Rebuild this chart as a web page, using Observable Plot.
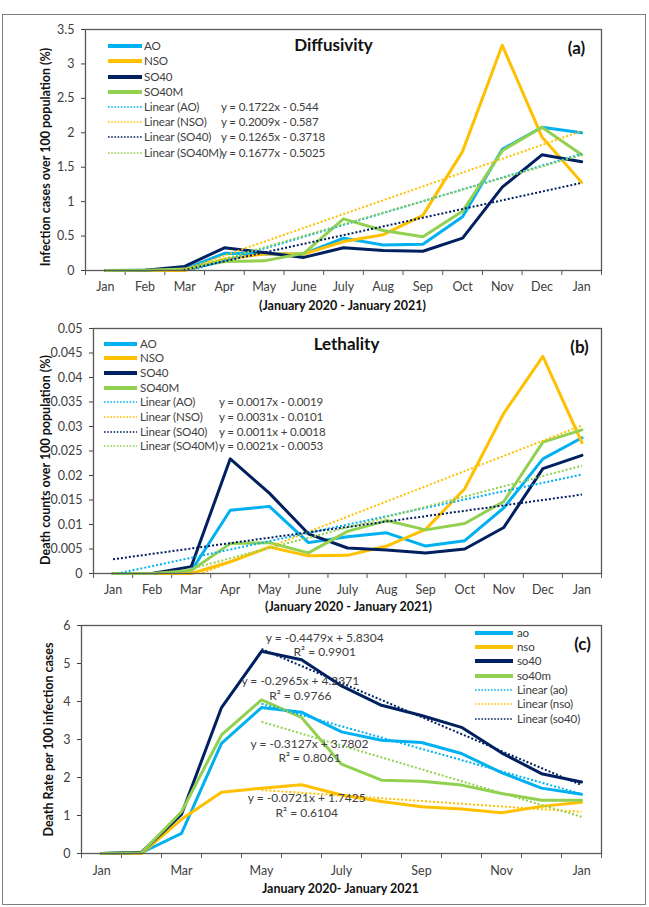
<!DOCTYPE html>
<html>
<head>
<meta charset="utf-8">
<script src="https://cdn.jsdelivr.net/npm/d3@7"></script>
<script src="https://cdn.jsdelivr.net/npm/@observablehq/plot@0.6"></script>
<style>
  body { margin: 0; background: #fff; }
  #wrap { position: relative; width: 649px; height: 907px; overflow: hidden;
          font-family: "Lato", "Liberation Sans", sans-serif; }
  #border { position: absolute; left: 2px; top: 14px; width: 644px; height: 891px;
            border: 1.5px solid #7f7f7f; box-sizing: border-box; }
  .panel { position: absolute; left: 0; }
</style>
</head>
<body>
<div id="wrap"><div id="border"></div></div>
<script>
// ---------- data ----------
const months = ["Jan", "Feb", "Mar", "Apr", "May", "June", "July", "Aug", "Sep", "Oct", "Nov", "Dec", "Jan"];
const seriesNamesUpper = ["AO", "NSO", "SO40", "SO40M"];
const seriesNamesLower = ["ao", "nso", "so40", "so40m"];
const colors = ["#00B0F0", "#FFC000", "#002060", "#92D050"];

// (a) Diffusivity: infection cases over 100 population (%)
const diffAO    = [0, 0.005, 0.02, 0.25, 0.24, 0.24, 0.47, 0.37, 0.38, 0.78, 1.76, 2.08, 2.00];
const diffNSO   = [0, 0.000, 0.00, 0.165, 0.24, 0.24, 0.42, 0.52, 0.80, 1.73, 3.27, 1.94, 1.28];
const diffSO40  = [0, 0.005, 0.06, 0.33, 0.26, 0.19, 0.33, 0.29, 0.28, 0.47, 1.21, 1.68, 1.58];
const diffSO40M = [0, 0.005, 0.02, 0.13, 0.14, 0.25, 0.75, 0.58, 0.49, 0.86, 1.74, 2.08, 1.68];
const diffSlopes = [0.1722, 0.2009, 0.1265, 0.1677];
const diffIntercepts = [-0.544, -0.587, -0.3718, -0.5025];
const diffTicks = [0, 0.5, 1, 1.5, 2, 2.5, 3, 3.5];

// (b) Lethality: death counts over 100 population (%)
const lethAO    = [0, 0, 0.0005, 0.0129, 0.0137, 0.0063, 0.0075, 0.0083, 0.0056, 0.0067, 0.0134, 0.0234, 0.0277];
const lethNSO   = [0, 0, 0.0000, 0.0024, 0.0054, 0.0036, 0.0037, 0.0056, 0.0090, 0.0173, 0.0327, 0.0443, 0.0267];
const lethSO40  = [0, 0, 0.0014, 0.0234, 0.0164, 0.0081, 0.0052, 0.0048, 0.0042, 0.0050, 0.0094, 0.0214, 0.0241];
const lethSO40M = [0, 0, 0.0006, 0.0061, 0.0063, 0.0042, 0.0086, 0.0108, 0.0089, 0.0102, 0.0147, 0.0268, 0.0293];
const lethSlopes = [0.0017, 0.0031, 0.0011, 0.0021];
const lethIntercepts = [-0.0019, -0.0101, 0.0018, -0.0053];
const lethTicks = [0, 0.005, 0.01, 0.015, 0.02, 0.025, 0.03, 0.035, 0.04, 0.045, 0.05];

// (c) Death rate per 100 infection cases
const rateAO    = [0, 0.02, 0.53, 2.90, 3.84, 3.72, 3.20, 2.98, 2.92, 2.63, 2.13, 1.72, 1.56];
const rateNSO   = [0, 0.00, 0.90, 1.61, 1.72, 1.81, 1.54, 1.37, 1.23, 1.17, 1.07, 1.24, 1.35];
const rateSO40  = [0, 0.03, 1.03, 3.84, 5.32, 5.10, 4.41, 3.90, 3.63, 3.32, 2.65, 2.10, 1.88];
const rateSO40M = [0, 0.02, 1.10, 3.12, 4.04, 3.58, 2.35, 1.93, 1.90, 1.80, 1.58, 1.40, 1.40];
const rateSlopes = [-0.2965, -0.0721, -0.4479, -0.3127];
const rateIntercepts = [4.2371, 1.7425, 5.8304, 3.7802];
const rateR2 = [0.9766, 0.6104, 0.9901, 0.8061];
const rateTrendStartMonth = 5;   // trend fitted from May (x = 1) to Jan 2021 (x = 9)
const rateTicks = [0, 1, 2, 3, 4, 5, 6];
const rateLabelMonths = [1, 3, 5, 7, 9, 11, 13];
// equation label anchor (month index, value) for ao, nso, so40, so40m
const rateEqX = [5.97, 6.13, 6.58, 6.2];
const rateEqY = [4.36, 1.28, 5.51, 2.72];

// ---------- helpers ----------
const FONT = '"Lato", "Liberation Sans", sans-serif';
const TXT = "#404040";
const FS = 11.6;
const monthIdx = months.map((m, i) => i + 1);
const bounds = months.concat([""]).map((m, i) => i + 0.5);
const fmtEq = (a, b) => `y = ${a}x ${b < 0 ? "-" : "+"} ${Math.abs(b)}`;

function panel(cfg) {
  const {valuesList, slopes, intercepts, trendFrom, trendOffset, yDomain, yTicks,
         labelMonths, mLeft, mTop, mBottom, height, title, tag, xLabel, yLabel,
         yLabelDx, yLabelDy, titleDx, tagDx, xLabelDx, xLabelDy, xTickPad, extra} = cfg;
  const marks = [
    Plot.axisY({ticks: yTicks, tickFormat: d => String(d), tickSize: 4, tickPadding: 7,
                label: null, fontSize: 12.5, color: TXT}),
    Plot.axisX({ticks: labelMonths, tickFormat: i => months[i - 1], tickSize: 0,
                tickPadding: xTickPad, label: null, fontSize: 12.5, color: TXT}),
    Plot.axisX({ticks: bounds, tickFormat: () => "", tickSize: 5, label: null, color: "#595959"}),
  ];
  valuesList.forEach((vals, s) => {
    marks.push(Plot.line(vals.map((v, i) => ({x: monthIdx[i], y: v})),
      {x: "x", y: "y", stroke: colors[s], strokeWidth: 3, strokeLinejoin: "round", strokeLinecap: "round"}));
  });
  slopes.forEach((a, s) => {
    const b = intercepts[s];
    const pts = [trendFrom, 13].map(x => ({x, y: a * (x - trendOffset) + b}));
    marks.push(Plot.line(pts, {x: "x", y: "y", stroke: colors[s], strokeWidth: 2,
      strokeDasharray: "2,2", strokeLinecap: "butt", clip: true}));
  });
  marks.push(Plot.frame({stroke: "#595959", strokeWidth: 1.3}));
  if (title) marks.push(Plot.text([title], {frameAnchor: "top", text: d => d, dx: titleDx, dy: 16,
    textAnchor: "middle", lineAnchor: "middle", fontWeight: "bold", fontSize: 17, fill: "#111"}));
  marks.push(Plot.text([tag], {frameAnchor: "top-right", text: d => d, dx: tagDx, dy: 19,
    textAnchor: "middle", lineAnchor: "middle", fontWeight: "bold", fontSize: 17, fill: "#111"}));
  marks.push(Plot.text([xLabel], {frameAnchor: "bottom", text: d => d, dx: xLabelDx, dy: xLabelDy,
    textAnchor: "middle", lineAnchor: "middle", fontWeight: "bold", fontSize: 12.5, fill: "#111"}));
  marks.push(Plot.text([yLabel], {frameAnchor: "left", text: d => d, rotate: -90, dx: yLabelDx,
    dy: yLabelDy, textAnchor: "middle", lineAnchor: "middle", fontWeight: "bold", fontSize: 12.5, fill: "#111"}));
  if (extra) marks.push(...extra);
  return Plot.plot({
    width: 649, height, marginLeft: mLeft, marginRight: 48, marginTop: mTop, marginBottom: mBottom,
    x: {type: "linear", domain: [0.5, 13.5]},
    y: {domain: yDomain},
    style: {fontFamily: FONT, fontSize: "12.5px", background: "transparent", color: TXT, overflow: "visible"},
    marks
  });
}

function legend(svgEl, items, o) {
  const g = d3.select(svgEl).append("g").attr("font-family", FONT).attr("font-size", FS)
    .attr("fill", TXT).attr("text-anchor", "start").attr("letter-spacing", "-0.15px");
  items.forEach((it, i) => {
    const y = o.rows[i];
    g.append("line").attr("x1", o.x1).attr("x2", o.x2).attr("y1", y).attr("y2", y)
      .attr("stroke", it.color).attr("stroke-width", it.dotted ? 1.6 : 4)
      .attr("stroke-dasharray", it.dotted ? "1.6,1.6" : null);
    g.append("text").attr("x", o.tx).attr("y", y).attr("dy", "0.35em").text(it.label);
    if (it.eq) g.append("text").attr("x", o.ex).attr("y", y).attr("dy", "0.35em").text(it.eq);
  });
}

const wrap = document.getElementById("wrap");
function place(el, top) { el.classList.add("panel"); el.style.top = top + "px"; wrap.appendChild(el); }

// ---------- panel (a) ----------
const pa = panel({
  valuesList: [diffAO, diffNSO, diffSO40, diffSO40M], slopes: diffSlopes, intercepts: diffIntercepts,
  trendFrom: 1, trendOffset: 0, yDomain: [0, 3.5], yTicks: diffTicks, labelMonths: monthIdx,
  mLeft: 85, mTop: 14, mBottom: 45, height: 300,
  title: "Diffusivity", tag: "(a)", xLabel: "(January 2020 - January 2021)",
  yLabel: "Infection cases over 100 population (%)", yLabelDx: -40, yLabelDy: 7,
  titleDx: -10, tagDx: -25, xLabelDx: -1, xLabelDy: 35, xTickPad: 12
});
place(pa, 15);
legend(pa, [
  ...seriesNamesUpper.map((n, i) => ({label: n, color: colors[i]})),
  ...seriesNamesUpper.map((n, i) => ({label: `Linear (${n})`, color: colors[i], dotted: true,
    eq: fmtEq(diffSlopes[i], diffIntercepts[i])}))
], {x1: 108, x2: 142, tx: 144, ex: 221, rows: [31, 46, 62, 77, 92, 107, 122, 138]});

// ---------- panel (b) ----------
const pb = panel({
  valuesList: [lethAO, lethNSO, lethSO40, lethSO40M], slopes: lethSlopes, intercepts: lethIntercepts,
  trendFrom: 1, trendOffset: 0, yDomain: [0, 0.05], yTicks: lethTicks, labelMonths: monthIdx,
  mLeft: 93, mTop: 13, mBottom: 42, height: 300,
  title: "Lethality", tag: "(b)", xLabel: "(January 2020 - January 2021)",
  yLabel: "Death counts over 100 population (%)", yLabelDx: -48, yLabelDy: 9,
  titleDx: -1, tagDx: -22, xLabelDx: 1, xLabelDy: 33, xTickPad: 12
});
place(pb, 315);
legend(pb, [
  ...seriesNamesUpper.map((n, i) => ({label: n, color: colors[i]})),
  ...seriesNamesUpper.map((n, i) => ({label: `Linear (${n})`, color: colors[i], dotted: true,
    eq: fmtEq(lethSlopes[i], lethIntercepts[i])}))
], {x1: 104, x2: 137, tx: 140, ex: 219, rows: [29, 43, 58, 73, 87, 102, 117, 131]});

// ---------- panel (c) ----------
const eqLabels = rateSlopes.map((a, i) => ({
  x: rateEqX[i], y: rateEqY[i],
  t: `${fmtEq(a, rateIntercepts[i])}\nR\u00B2 = ${rateR2[i]}`
}));
const pc = panel({
  valuesList: [rateAO, rateNSO, rateSO40, rateSO40M], slopes: rateSlopes, intercepts: rateIntercepts,
  trendFrom: rateTrendStartMonth, trendOffset: rateTrendStartMonth - 1, yDomain: [0, 6], yTicks: rateTicks,
  labelMonths: rateLabelMonths,
  mLeft: 81, mTop: 10, mBottom: 50, height: 288,
  title: "", tag: "(c)", xLabel: "January 2020- January 2021",
  yLabel: "Death Rate per 100 infection cases", yLabelDx: -33, yLabelDy: 0,
  titleDx: 0, tagDx: -19, xLabelDx: -1, xLabelDy: 35, xTickPad: 13,
  extra: [Plot.text(eqLabels, {x: "x", y: "y", text: "t", lineHeight: 1.2, fontSize: 12, fill: TXT})]
});
place(pc, 615);
legend(pc, [
  ...seriesNamesLower.map((n, i) => ({label: n, color: colors[i]})),
  ...seriesNamesLower.slice(0, 3).map((n, i) => ({label: `Linear (${n})`, color: colors[i], dotted: true}))
], {x1: 475, x2: 513, tx: 517, ex: 0, rows: [18, 32, 46, 61, 75, 89, 104]});
</script>
</body>
</html>
